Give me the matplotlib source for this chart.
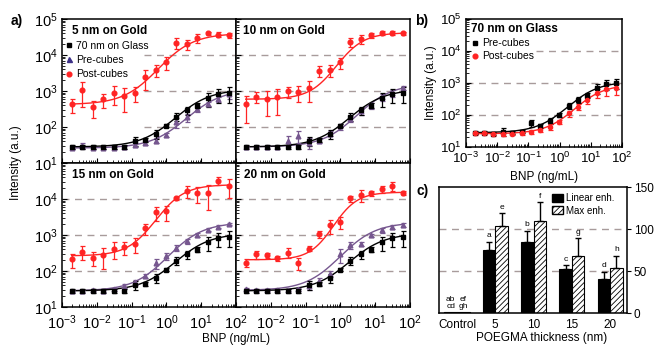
import numpy as np
import matplotlib
matplotlib.use("Agg")
import matplotlib.pyplot as plt
from matplotlib.lines import Line2D
from matplotlib.patches import Patch
from matplotlib.ticker import LogLocator, NullFormatter

plt.rcParams['font.family'] = ['Liberation Sans', 'DejaVu Sans']
plt.rcParams['mathtext.default'] = 'regular'
plt.rcParams['hatch.linewidth'] = 0.6

#####################################################################################
# BNP concentrations (ng/mL), two-fold dilutions
conc = [0.0019, 0.0038, 0.0076, 0.0153, 0.0305, 0.061, 0.122, 0.244,
        0.488, 0.977, 1.95, 3.91, 7.81, 15.6, 31.25, 62.5]

# 70 nm on glass reference (black, panel a)
glass_ref = [28, 28, 28, 28, 28, 28, 42, 44, 65, 110, 195, 290, 390, 620, 810, 870]
glass_ref_err = [3, 3, 3, 3, 3, 3, 12, 6, 20, 12, 50, 70, 60, 250, 350, 400]

pre_5 = [26, 30, 26, 26, 26, 27, 31, 37, 42, 61, 134, 185, 315, 440, 600, 810]
pre_5_err = [2, 5, 2, 2, 2, 2, 4, 5, 6, 8, 40, 50, 60, 60, 100, 200]
post_5 = [430, 1050, 350, 590, 900, 740, 900, 2500, 3900, 6300, 22000, 20000, 30000, 40000, 37000, 35000]
post_5_err = [180, 700, 170, 250, 500, 480, 400, 1400, 1500, 2500, 7000, 6000, 9000, 4000, 6000, 5000]

pre_10 = [28, 28, 28, 28, 42, 55, 37, 42, 65, 105, 170, 270, 390, 670, 870, 1200]
pre_10_err = [2, 2, 2, 2, 15, 20, 12, 6, 10, 20, 30, 60, 80, 150, 200, 150]
post_10 = [430, 700, 600, 660, 970, 930, 1200, 3600, 3900, 6200, 23000, 28000, 35000, 40000, 40000, 40000]
post_10_err = [300, 250, 400, 450, 350, 450, 700, 1200, 1500, 2000, 6000, 8000, 6000, 5000, 5000, 4000]

pre_15 = [28, 28, 29, 28, 31, 38, 50, 73, 162, 264, 435, 670, 1000, 1420, 1700, 2000]
pre_15_err = [2, 2, 2, 2, 3, 5, 8, 10, 50, 60, 80, 100, 120, 150, 150, 150]
post_15 = [210, 340, 235, 275, 420, 465, 560, 1520, 4300, 4500, 10500, 17000, 14500, 15000, 32000, 23000]
post_15_err = [90, 140, 100, 160, 200, 180, 250, 500, 1800, 2000, 1000, 6000, 7000, 10000, 8000, 12000]

pre_20 = [31, 29, 29, 29, 29, 31, 38, 52, 85, 290, 520, 560, 1000, 1370, 1700, 1950]
pre_20_err = [3, 2, 2, 2, 2, 3, 8, 12, 15, 120, 100, 60, 100, 200, 200, 250]
post_20 = [170, 290, 275, 225, 325, 170, 420, 1050, 1850, 2350, 10500, 13000, 14500, 19000, 23000, 15000]
post_20_err = [40, 80, 40, 40, 100, 60, 60, 250, 800, 900, 2000, 5000, 2000, 4000, 6000, 2000]

# panel b: 70 nm on glass
glass_pre = [28, 28, 26, 30, 28, 30, 57, 45, 66, 100, 190, 295, 405, 710, 910, 980]
glass_pre_err = [3, 3, 3, 8, 3, 3, 15, 6, 12, 12, 40, 60, 70, 250, 300, 350]
glass_post = [27, 27, 25, 26, 26, 27, 30, 34, 43, 61, 113, 180, 295, 480, 630, 680]
glass_post_err = [3, 3, 3, 4, 3, 3, 4, 5, 8, 10, 25, 40, 80, 150, 250, 250]

# fitted curves: (bottom, top, EC50, hill), logistic in log10(I)
fit_ref = (28, 1120, 1.8, 0.85)
fit_pre_5 = (26, 1120, 3.7, 0.83)
fit_post_5 = (420, 40000, 0.58, 0.85)
fit_pre_10 = (28, 1600, 3.0, 0.85)
fit_post_10 = (590, 41700, 0.77, 1.1)
fit_pre_15 = (28, 2240, 1.1, 0.85)
fit_post_15 = (263, 25100, 0.49, 1.05)
fit_pre_20 = (29, 2240, 1.0, 0.85)
fit_post_20 = (205, 15500, 0.63, 1.25)
fit_glass_pre = (28, 1120, 1.8, 0.85)
fit_glass_post = (26, 900, 3.0, 0.9)

# panel c
thick_labels = ['Control', '5', '10', '15', '20']
lin_enh = [1, 75, 84, 52, 40]
lin_err = [0, 10, 14, 5, 9]
max_enh = [1, 104, 110, 68, 53]
max_err = [0, 15, 22, 21, 15]
lin_letters = ['ab\ncd', 'a', 'b', 'c', 'd']
max_letters = ['ef\ngh', 'e', 'f', 'g', 'h']

x_dec = [-3, -2, -1, 0, 1, 2]
y_dec = [1, 2, 3, 4, 5]

#####################################################################################
red = '#ff2424'
purple = '#76578f'
tri_legend = '#3b2f86'
dash_col = '#a89b9b'

W, H = 654, 346
fig = plt.figure(figsize=(W / 100, H / 100), dpi=100)


def fx(px):
    return px / W


def fy(py):
    return 1 - py / H


def logistic(x, p):
    lb, lt = np.log10(p[0]), np.log10(p[1])
    return 10 ** (lb + (lt - lb) / (1 + (p[2] / x) ** p[3]))


xfit = np.logspace(np.log10(conc[0]), np.log10(conc[-1]), 300)


def series(ax, y, err, fit, color, marker, ms, mcolor=None):
    ax.plot(xfit, logistic(xfit, fit), color=color, lw=1.0, zorder=2)
    ax.errorbar(conc, y, yerr=err, fmt=marker, ms=ms, color=color,
                mfc=mcolor or color, mec=mcolor or color,
                elinewidth=0.9, capsize=1.8, capthick=0.9, zorder=3)


def dec_labels(decs, skip=()):
    return ['' if d in skip else '$10^{%d}$' % d for d in decs]


def style_log(ax, xlab=True, ylab=True, xskip=(), yskip=(), fs=10.5, xpad=4.5):
    ax.set_xscale('log')
    ax.set_yscale('log')
    ax.set_xlim(1e-3, 1e2)
    ax.set_ylim(1e1, 1e5)
    ax.set_xticks([10.0 ** d for d in x_dec])
    ax.set_yticks([10.0 ** d for d in y_dec])
    ax.xaxis.set_minor_locator(LogLocator(base=10, subs=np.arange(2, 10), numticks=20))
    ax.yaxis.set_minor_locator(LogLocator(base=10, subs=np.arange(2, 10), numticks=20))
    ax.xaxis.set_minor_formatter(NullFormatter())
    ax.yaxis.set_minor_formatter(NullFormatter())
    ax.set_xticklabels(dec_labels(x_dec, xskip) if xlab else [])
    ax.set_yticklabels(dec_labels(y_dec, yskip) if ylab else [])
    ax.tick_params(which='major', direction='in', length=3.5, width=0.8, labelsize=fs)
    ax.tick_params(axis='x', which='major', pad=xpad)
    ax.tick_params(axis='y', which='major', pad=3)
    ax.tick_params(which='minor', direction='in', length=2, width=0.6)
    for s in ax.spines.values():
        s.set_linewidth(1.1)


#####################################################################################
# panel a
aw, ah = 174, 144
pos = [(62, 19), (236, 19), (62, 163), (236, 163)]
panels = [
    ('5 nm on Gold', pre_5, pre_5_err, fit_pre_5, post_5, post_5_err, fit_post_5, 0.47, 0.06),
    ('10 nm on Gold', pre_10, pre_10_err, fit_pre_10, post_10, post_10_err, fit_post_10, 0.0, 0.04),
    ('15 nm on Gold', pre_15, pre_15_err, fit_pre_15, post_15, post_15_err, fit_post_15, 0.0, 0.06),
    ('20 nm on Gold', pre_20, pre_20_err, fit_pre_20, post_20, post_20_err, fit_post_20, 0.0, 0.045),
]

axes_a = []
for i, (title, pre, pre_err, fpre, post, post_err, fpost, dmin, tx) in enumerate(panels):
    x0, y0 = pos[i]
    ax = fig.add_axes([fx(x0), fy(y0 + ah), aw / W, ah / H])
    style_log(ax, xlab=(i >= 2), ylab=(i % 2 == 0),
              xskip=((-3,) if i == 3 else ()), yskip=((5,) if i == 2 else ()))
    for lev in [1e2, 1e3, 1e4]:
        ax.axhline(lev, xmin=dmin, color=dash_col, lw=1.0, ls=(0, (5, 4)), zorder=1)
    series(ax, pre, pre_err, fpre, purple, '^', 3.4)
    series(ax, glass_ref, glass_ref_err, fit_ref, 'black', 's', 3.0)
    series(ax, post, post_err, fpost, red, 'o', 3.4)
    ax.text(tx, 0.92, title, transform=ax.transAxes, fontsize=8.5,
            fontweight='bold', va='center', ha='left')
    axes_a.append(ax)

handles = [Line2D([], [], marker='s', color='black', ls='none', ms=3.0),
           Line2D([], [], marker='^', color=tri_legend, ls='none', ms=3.6),
           Line2D([], [], marker='o', color=red, ls='none', ms=3.4)]
axes_a[0].legend(handles, ['70 nm on Glass', 'Pre-cubes', 'Post-cubes'],
                 loc='upper left', bbox_to_anchor=(0.025, 0.85), frameon=False,
                 fontsize=7.5, handlelength=0.6, handletextpad=0.35,
                 labelspacing=0.42, borderpad=0, borderaxespad=0)

fig.text(fx(17), fy(21), 'a)', fontsize=10, fontweight='bold', ha='center', va='center')
fig.text(fx(16), fy(163), 'Intensity (a.u.)', rotation=90, fontsize=8.5, ha='center', va='center')
fig.text(fx(236), fy(339), 'BNP (ng/mL)', fontsize=8.5, ha='center', va='center')

#####################################################################################
# panel b
ax_b = fig.add_axes([fx(466), fy(147), 156 / W, 128 / H])
style_log(ax_b, fs=9.5, xpad=3)
for lev, dmin in [(1e2, 0.0), (1e3, 0.0), (1e4, 0.45)]:
    ax_b.axhline(lev, xmin=dmin, color=dash_col, lw=1.0, ls=(0, (5, 4)), zorder=1)
series(ax_b, glass_pre, glass_pre_err, fit_glass_pre, 'black', 's', 3.0)
series(ax_b, glass_post, glass_post_err, fit_glass_post, red, 'o', 3.0)
ax_b.text(0.03, 0.92, '70 nm on Glass', transform=ax_b.transAxes, fontsize=8.5,
          fontweight='bold', va='center', ha='left')
ax_b.legend(handles[::2], ['Pre-cubes', 'Post-cubes'], loc='upper left',
            bbox_to_anchor=(0.04, 0.85), frameon=False, fontsize=7.5,
            handlelength=0.6, handletextpad=0.35, labelspacing=0.3,
            borderpad=0, borderaxespad=0)

fig.text(fx(422), fy(21), 'b)', fontsize=10, fontweight='bold', ha='center', va='center')
fig.text(fx(431), fy(83), 'Intensity (a.u.)', rotation=90, fontsize=8.5, ha='center', va='center')
fig.text(fx(544), fy(177), 'BNP (ng/mL)', fontsize=8.5, ha='center', va='center')

#####################################################################################
# panel c
ax_c = fig.add_axes([fx(439), fy(313), 188 / W, 126 / H])
xg = np.arange(len(thick_labels))
bw = 0.33
for lev in [50, 100]:
    ax_c.axhline(lev, color=dash_col, lw=1.0, ls=(0, (5, 4)), zorder=0)
ax_c.bar(xg - bw / 2, lin_enh, bw, color='black', edgecolor='black', lw=0.8, zorder=2)
ax_c.bar(xg + bw / 2, max_enh, bw, color='white', edgecolor='black', lw=0.8,
         hatch='//////', zorder=2)
ax_c.errorbar(xg[1:] - bw / 2, lin_enh[1:], yerr=[np.zeros(4), lin_err[1:]], fmt='none',
              ecolor='black', elinewidth=1.0, capsize=2.5, capthick=1.0, zorder=3)
ax_c.errorbar(xg[1:] + bw / 2, max_enh[1:], yerr=[np.zeros(4), max_err[1:]], fmt='none',
              ecolor='black', elinewidth=1.0, capsize=2.5, capthick=1.0, zorder=3)
for i in range(len(xg)):
    ax_c.text(xg[i] - bw / 2, lin_enh[i] + lin_err[i] + 3, lin_letters[i], fontsize=6,
              ha='center', va='bottom', linespacing=0.9)
    ax_c.text(xg[i] + bw / 2, max_enh[i] + max_err[i] + 3, max_letters[i], fontsize=6,
              ha='center', va='bottom', linespacing=0.9)
ax_c.set_xlim(-0.47, 4.44)
ax_c.set_ylim(0, 150)
ax_c.set_yticks([0, 50, 100, 150])
ax_c.set_xticks(xg)
ax_c.set_xticklabels(thick_labels)
ax_c.yaxis.tick_right()
ax_c.tick_params(axis='y', direction='out', length=3, width=0.8, labelsize=8.5, pad=2)
ax_c.tick_params(axis='x', length=0, labelsize=8.5, pad=4)
for s in ax_c.spines.values():
    s.set_linewidth(1.1)
ax_c.legend([Patch(facecolor='black', edgecolor='black'),
             Patch(facecolor='white', edgecolor='black', hatch='//////')],
            ['Linear enh.', 'Max enh.'], loc='upper left', bbox_to_anchor=(0.6, 0.95),
            frameon=False, fontsize=7, handlelength=1.15, handleheight=0.9,
            handletextpad=0.3, labelspacing=0.25, borderpad=0, borderaxespad=0)

fig.text(fx(423), fy(191), 'c)', fontsize=10, fontweight='bold', ha='center', va='center')
fig.text(fx(542), fy(338), 'POEGMA thickness (nm)', fontsize=8.5, ha='center', va='center')

#####################################################################################
fig.savefig('out.png', dpi=100)
